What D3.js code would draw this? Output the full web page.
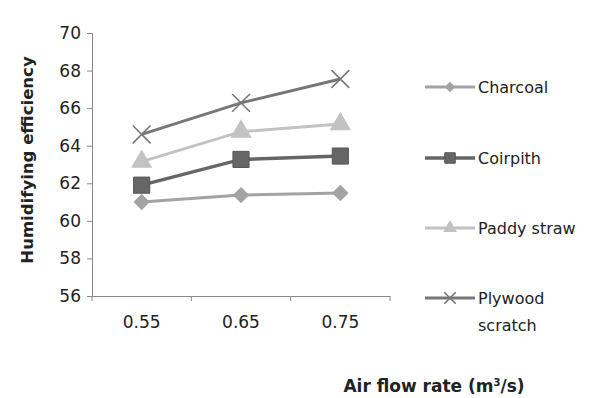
<!DOCTYPE html>
<html>
<head>
<meta charset="utf-8">
<script src="https://cdn.jsdelivr.net/npm/d3@7"></script>
<style>
  body { margin: 0; background: #fff; }
  text { font-family: "DejaVu Sans", "Open Sans", sans-serif; fill: #222; }
</style>
</head>
<body>
<div id="chart"></div>
<script>
// chart data
const categories = ["0.55", "0.65", "0.75"];
const charcoal = [61.0, 61.37, 61.48];
const coirpith = [61.9, 63.27, 63.45];
const paddyStraw = [63.15, 64.75, 65.15];
const plywood = [64.6, 66.28, 67.55];
const seriesNames = ["Charcoal", "Coirpith", "Paddy straw", "Plywood scratch"];
const yTicks = [56, 58, 60, 62, 64, 66, 68, 70];

const series = [
  {name: seriesNames[0], values: charcoal, color: "#a3a3a3", marker: "diamond", width: 3},
  {name: seriesNames[1], values: coirpith, color: "#666666", marker: "square", width: 3.5},
  {name: seriesNames[2], values: paddyStraw, color: "#c2c2c2", marker: "triangle", width: 3},
  {name: seriesNames[3], values: plywood, color: "#777777", marker: "cross", width: 3}
];

const W = 596, H = 398;
const svg = d3.select("#chart").append("svg")
    .attr("width", W)
    .attr("height", H);

const plot = {left: 92, right: 390, top: 33, bottom: 296};

// x axis (band, ticks between categories)
const x = d3.scaleBand()
    .domain(categories)
    .range([plot.left, plot.right]);

const y = d3.scaleLinear()
    .domain([56, 70])
    .range([plot.bottom, plot.top]);

// y axis
const yAxis = svg.append("g")
    .attr("transform", `translate(${plot.left},0)`)
    .call(d3.axisLeft(y).tickValues(yTicks).tickSize(5).tickPadding(6).tickFormat(d3.format("d")));
yAxis.select(".domain").attr("stroke", "#888");
yAxis.selectAll(".tick line").attr("stroke", "#888");
yAxis.selectAll("text").style("font-size", "17px").attr("fill", "#222");

// x axis
const xAxis = svg.append("g")
    .attr("transform", `translate(0,${plot.bottom})`)
    .call(d3.axisBottom(x).tickSize(0).tickPadding(20));
xAxis.select(".domain").attr("stroke", "#888");
xAxis.selectAll("text").style("font-size", "17px").attr("fill", "#222");
// boundary ticks between categories
const bounds = categories.map(c => x(c)).concat([x.range()[1]]);
xAxis.selectAll(".bound")
    .data(bounds)
    .enter().append("line")
    .attr("x1", d => d).attr("x2", d => d)
    .attr("y1", 0).attr("y2", 5)
    .attr("stroke", "#888");

// axis titles
svg.append("text")
    .attr("transform", `translate(33,160) rotate(-90)`)
    .attr("text-anchor", "middle")
    .style("font-size", "16.5px")
    .style("font-weight", "bold")
    .text("Humidifying efficiency");

const xt = svg.append("text")
    .attr("x", 434)
    .attr("y", 392)
    .attr("text-anchor", "middle")
    .style("font-size", "17px")
    .style("font-weight", "bold");
xt.append("tspan").text("Air flow rate (m");
xt.append("tspan").attr("dy", -6).style("font-size", "10px").text("3");
xt.append("tspan").attr("dy", 6).text("/s)");

const cx = d => x(d) + x.bandwidth() / 2;

function drawMarker(g, type, color, size) {
  if (type === "diamond") {
    const r = Math.sqrt(size) * 0.72;
    g.append("path").attr("d", `M0,${-r}L${r},0L0,${r}L${-r},0Z`)
      .attr("fill", color);
  } else if (type === "square") {
    g.append("path").attr("d", d3.symbol().type(d3.symbolSquare).size(size * 2)())
      .attr("fill", color).attr("stroke", "#555").attr("stroke-width", 1);
  } else if (type === "triangle") {
    g.append("path").attr("d", d3.symbol().type(d3.symbolTriangle).size(size * 1.5)())
      .attr("fill", color);
  } else if (type === "cross") {
    g.append("path").attr("d", d3.symbol().type(d3.symbolX).size(size * 1.6)())
      .attr("fill", "none").attr("stroke", color).attr("stroke-width", 1.6);
  }
}

const line = d3.line()
    .x((d, i) => cx(categories[i]))
    .y(d => y(d));

series.forEach(s => {
  svg.append("path")
    .datum(s.values)
    .attr("d", line)
    .attr("fill", "none")
    .attr("stroke", s.color)
    .attr("stroke-width", s.width);

  s.values.forEach((v, i) => {
    const g = svg.append("g")
      .attr("transform", `translate(${cx(categories[i])},${y(v)})`);
    drawMarker(g, s.marker, s.color, 130);
  });
});

// legend
const legendY = [87, 158, 228, 298];
series.forEach((s, i) => {
  const g = svg.append("g").attr("transform", `translate(425,${legendY[i]})`);
  g.append("line")
    .attr("x1", 0).attr("x2", 50)
    .attr("stroke", s.color)
    .attr("stroke-width", s.width);
  const m = g.append("g").attr("transform", "translate(25,0)");
  drawMarker(m, s.marker, s.color, 55);
  const words = s.name === "Plywood scratch" ? ["Plywood", "scratch"] : [s.name];
  const t = g.append("text")
    .attr("x", 53)
    .attr("y", 6)
    .style("font-size", "16px");
  words.forEach((w, k) => {
    t.append("tspan").attr("x", 53).attr("dy", k === 0 ? 0 : 27).text(w);
  });
});
</script>
</body>
</html>
